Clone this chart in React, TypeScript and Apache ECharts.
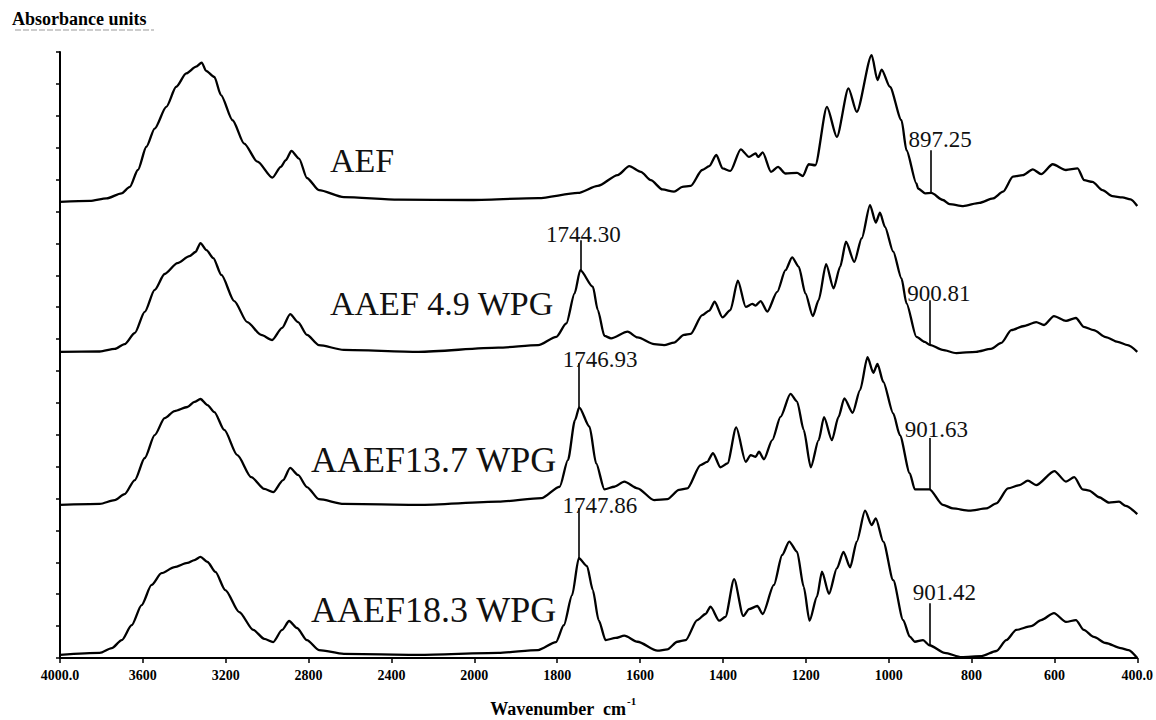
import React, { useEffect, useRef } from "react";
import * as echarts from "echarts";

// Wavenumber tick labels; the axis changes scale at 2000 cm-1 (400 per step above, 200 per step below)
const xTickLabels = ["4000.0", "3600", "3200", "2800", "2400", "2000", "1800", "1600", "1400", "1200", "1000", "800", "600", "400.0"];

const sampleNames = ["AEF", "AAEF 4.9 WPG", "AAEF13.7 WPG", "AAEF18.3 WPG"];

// Vertical offsets of the stacked spectra (absorbance units)
const stackOffsets = [1.43, 0.96, 0.48, 0.01];

// [wavenumber cm-1, absorbance above the spectrum's own baseline]
const aef: [number, number][] = [
  [4000, 0], [3856, 0.003], [3775, 0.011], [3703, 0.027], [3663, 0.047], [3624, 0.1], [3583, 0.173], [3543, 0.23],
  [3487, 0.298], [3439, 0.361], [3391, 0.403], [3343, 0.424], [3316, 0.437], [3295, 0.411], [3255, 0.392], [3223, 0.335],
  [3167, 0.256], [3111, 0.183], [3047, 0.126], [2975, 0.076], [2934, 0.11], [2910, 0.131], [2883, 0.16], [2846, 0.136],
  [2808, 0.075], [2750, 0.037], [2630, 0.015], [2365, 0.007], [2029, 0.006], [1846, 0.012], [1750, 0.028], [1702, 0.05],
  [1654, 0.084], [1626, 0.112], [1598, 0.094], [1574, 0.068], [1546, 0.039], [1518, 0.032], [1498, 0.047], [1478, 0.05],
  [1450, 0.1], [1433, 0.112], [1416, 0.147], [1401, 0.105], [1382, 0.097], [1357, 0.165], [1337, 0.141], [1321, 0.152],
  [1315, 0.141], [1304, 0.155], [1284, 0.094], [1267, 0.11], [1249, 0.089], [1221, 0.091], [1207, 0.081], [1193, 0.118],
  [1177, 0.115], [1149, 0.298], [1125, 0.204], [1097, 0.356], [1077, 0.282], [1041, 0.46], [1027, 0.382], [1017, 0.415],
  [997, 0.361], [969, 0.256], [957, 0.162], [933, 0.058], [929, 0.042], [912, 0.027], [897.25, 0.028], [869, 0.006],
  [853, -0.007], [820, -0.013], [781, -0.003], [748, 0.011], [724, 0.032], [700, 0.079], [676, 0.084], [652, 0.102],
  [632, 0.087], [604, 0.118], [572, 0.1], [544, 0.105], [528, 0.068], [508, 0.063], [484, 0.037], [460, 0.018],
  [436, 0.014], [416, 0.008], [400, -0.013],
];

const aaef49: [number, number][] = [
  [4000, 0], [3808, 0.001], [3736, 0.009], [3688, 0.024], [3639, 0.059], [3591, 0.125], [3543, 0.194], [3495, 0.244],
  [3433, 0.278], [3375, 0.3], [3346, 0.313], [3322, 0.341], [3293, 0.319], [3260, 0.294], [3221, 0.241], [3159, 0.159],
  [3096, 0.093], [3029, 0.053], [2976, 0.037], [2928, 0.075], [2889, 0.118], [2851, 0.093], [2808, 0.053], [2750, 0.021],
  [2630, 0.006], [2269, 0], [1942, 0.013], [1846, 0.021], [1802, 0.047], [1778, 0.089], [1758, 0.183], [1744.3, 0.256],
  [1714, 0.204], [1702, 0.131], [1686, 0.05], [1670, 0.042], [1630, 0.063], [1606, 0.045], [1566, 0.024], [1542, 0.021],
  [1518, 0.029], [1494, 0.053], [1478, 0.056], [1450, 0.115], [1433, 0.129], [1420, 0.157], [1401, 0.108], [1382, 0.131],
  [1364, 0.223], [1345, 0.141], [1329, 0.15], [1321, 0.145], [1309, 0.159], [1293, 0.126], [1269, 0.188], [1249, 0.256],
  [1233, 0.296], [1217, 0.267], [1201, 0.183], [1183, 0.112], [1169, 0.162], [1151, 0.275], [1133, 0.199], [1117, 0.267],
  [1103, 0.345], [1083, 0.282], [1065, 0.356], [1045, 0.46], [1031, 0.405], [1021, 0.436], [1009, 0.392], [989, 0.314],
  [969, 0.23], [957, 0.152], [933, 0.047], [913, 0.031], [900.81, 0.022], [870, 0.006], [837, -0.004], [789, 0],
  [753, 0.009], [728, 0.028], [704, 0.068], [673, 0.081], [644, 0.093], [625, 0.084], [601, 0.112], [572, 0.097],
  [548, 0.106], [529, 0.078], [505, 0.068], [476, 0.046], [447, 0.031], [423, 0.021], [400, 0],
];

const aaef137: [number, number][] = [
  [4000, 0], [3808, 0.003], [3736, 0.015], [3688, 0.034], [3639, 0.078], [3591, 0.147], [3543, 0.219], [3495, 0.272],
  [3447, 0.294], [3385, 0.307], [3351, 0.323], [3322, 0.332], [3288, 0.313], [3255, 0.291], [3207, 0.235], [3144, 0.156],
  [3077, 0.087], [3014, 0.05], [2971, 0.04], [2923, 0.078], [2889, 0.116], [2851, 0.094], [2808, 0.056], [2750, 0.018],
  [2630, 0.003], [2269, 0], [1942, 0.01], [1838, 0.021], [1794, 0.057], [1774, 0.141], [1757, 0.266], [1746.93, 0.306],
  [1722, 0.245], [1706, 0.13], [1686, 0.049], [1662, 0.057], [1638, 0.073], [1606, 0.052], [1566, 0.015], [1534, 0.018],
  [1506, 0.047], [1486, 0.052], [1454, 0.125], [1438, 0.135], [1424, 0.162], [1406, 0.118], [1389, 0.13], [1368, 0.243],
  [1345, 0.135], [1333, 0.156], [1321, 0.151], [1313, 0.167], [1301, 0.143], [1281, 0.203], [1261, 0.276], [1237, 0.348],
  [1221, 0.324], [1205, 0.235], [1188, 0.118], [1169, 0.203], [1156, 0.275], [1137, 0.203], [1121, 0.276], [1107, 0.334],
  [1087, 0.289], [1069, 0.36], [1051, 0.463], [1037, 0.414], [1027, 0.442], [1013, 0.386], [989, 0.287], [973, 0.219],
  [949, 0.099], [937, 0.049], [917, 0.049], [901.63, 0.049], [869, 0], [845, -0.011], [805, -0.018], [764, -0.011],
  [740, 0.005], [712, 0.052], [684, 0.062], [664, 0.076], [644, 0.062], [600, 0.106], [572, 0.073], [552, 0.087],
  [532, 0.049], [516, 0.045], [492, 0.024], [468, 0.007], [444, 0.01], [428, -0.003], [400, -0.029],
];

const aaef183: [number, number][] = [
  [4000, 0], [3808, 0.006], [3750, 0.021], [3702, 0.046], [3654, 0.093], [3606, 0.156], [3558, 0.219], [3510, 0.256],
  [3447, 0.275], [3385, 0.288], [3351, 0.297], [3322, 0.307], [3288, 0.291], [3250, 0.26], [3202, 0.203], [3135, 0.134],
  [3067, 0.078], [3014, 0.05], [2971, 0.04], [2928, 0.078], [2894, 0.106], [2856, 0.084], [2808, 0.046], [2750, 0.015],
  [2630, 0.003], [2269, 0], [1942, 0.006], [1846, 0.015], [1803, 0.04], [1784, 0.093], [1764, 0.187], [1747.86, 0.303],
  [1728, 0.278], [1714, 0.203], [1700, 0.109], [1683, 0.046], [1659, 0.053], [1638, 0.06], [1606, 0.041], [1558, 0.013],
  [1534, 0.017], [1510, 0.041], [1490, 0.046], [1462, 0.109], [1442, 0.128], [1430, 0.151], [1409, 0.107], [1394, 0.119],
  [1373, 0.237], [1351, 0.122], [1337, 0.143], [1317, 0.153], [1304, 0.128], [1277, 0.219], [1257, 0.313], [1240, 0.355],
  [1221, 0.323], [1205, 0.213], [1191, 0.107], [1173, 0.182], [1161, 0.261], [1144, 0.191], [1125, 0.271], [1109, 0.323],
  [1093, 0.274], [1077, 0.355], [1057, 0.452], [1041, 0.407], [1031, 0.428], [1013, 0.355], [989, 0.234], [965, 0.109],
  [949, 0.057], [937, 0.041], [917, 0.046], [901.42, 0.03], [865, 0.006], [824, -0.007], [776, -0.004], [740, 0.012],
  [716, 0.046], [692, 0.078], [656, 0.09], [632, 0.109], [601, 0.131], [572, 0.103], [548, 0.109], [529, 0.078],
  [505, 0.056], [476, 0.037], [440, 0.021], [421, 0.015], [400, -0.01],
];

// Annotated peak positions (cm-1) for each spectrum
const peaksAef = [897.25];
const peaks49 = [1744.3, 900.81];
const peaks137 = [1746.93, 901.63];
const peaks183 = [1747.86, 901.42];

const SERIF = '"Liberation Serif", "Times New Roman", serif';

// Piecewise-linear wavenumber scale: 4000..2000 over 5 steps, 2000..400 over 8 steps
function toAxis(wn: number): number {
  return wn >= 2000 ? (4000 - wn) / 400 : 5 + (2000 - wn) / 200;
}

function valueAt(points: [number, number][], wn: number): number {
  const p = points.find((q) => q[0] === wn);
  return p ? p[1] : 0;
}

type PeakStyle = { top: number; dx: number; dy: number };

// leader-line tops (absorbance axis) and label nudges (px) for each annotated peak
const peakStyles: PeakStyle[][] = [
  [{ top: 1.592, dx: 9, dy: -11 }],
  [{ top: 1.31, dx: 3, dy: -6 }, { top: 1.122, dx: 9, dy: -7 }],
  [{ top: 0.925, dx: 21, dy: -3 }, { top: 0.69, dx: 7, dy: -8 }],
  [{ top: 0.47, dx: 21, dy: -3 }, { top: 0.172, dx: 15, dy: -11 }],
];

const spectra = [
  { points: aef, peaks: peaksAef },
  { points: aaef49, peaks: peaks49 },
  { points: aaef137, peaks: peaks137 },
  { points: aaef183, peaks: peaks183 },
];

function buildOption(): echarts.EChartsOption {
  const series: any[] = spectra.map((s, i) => {
    const off = stackOffsets[i];
    const styles = peakStyles[i];
    return {
      type: "line",
      name: sampleNames[i],
      data: s.points.map(([w, a]) => [toAxis(w), a + off]),
      showSymbol: false,
      symbol: "none",
      smooth: 0.25,
      smoothMonotone: "x",
      silent: true,
      clip: false,
      lineStyle: { color: "#000", width: 2.3 },
      markLine: {
        silent: true,
        symbol: ["none", "none"],
        label: { show: false },
        lineStyle: { color: "#000", width: 1.6, type: "solid" },
        data: s.peaks.map((wn, k) => [
          { coord: [toAxis(wn), valueAt(s.points, wn) + off] },
          { coord: [toAxis(wn), styles[k].top] },
        ]),
      },
      markPoint: {
        silent: true,
        symbol: "circle",
        symbolSize: 1,
        itemStyle: { color: "rgba(0,0,0,0)" },
        data: s.peaks.map((wn, k) => ({
          name: wn.toFixed(2),
          coord: [toAxis(wn), styles[k].top],
          label: {
            show: true,
            position: "inside",
            formatter: "{b}",
            offset: [styles[k].dx, styles[k].dy],
            color: "#111",
            fontFamily: SERIF,
            fontSize: 23,
          },
        })),
      },
    };
  });

  const nameStyle = (size: number) => ({ font: `${size}px ${SERIF}`, fill: "#111" });

  return {
    animation: false,
    backgroundColor: "#fff",
    grid: { left: 60, right: 14, top: 52, bottom: 62 },
    xAxis: {
      type: "value",
      min: 0,
      max: 13,
      interval: 1,
      axisLine: { show: true, lineStyle: { color: "#000", width: 2 } },
      axisTick: { show: true, length: 5, lineStyle: { color: "#000", width: 1.5 } },
      splitLine: { show: false },
      axisLabel: {
        margin: 10,
        color: "#000",
        fontFamily: SERIF,
        fontWeight: "bold",
        fontSize: 14,
        showMinLabel: true,
        showMaxLabel: true,
        formatter: (v: number) => xTickLabels[Math.round(v)] ?? "",
      },
    },
    yAxis: {
      type: "value",
      min: 0,
      max: 1.9,
      interval: 0.1,
      axisLine: { show: true, lineStyle: { color: "#000", width: 2 } },
      axisTick: { show: true, length: 4, lineStyle: { color: "#000", width: 1.5 } },
      axisLabel: { show: false },
      splitLine: { show: false },
    },
    graphic: [
      {
        type: "text",
        x: 12,
        y: 19,
        style: { text: "Absorbance units", font: `bold 18px ${SERIF}`, fill: "#000", textVerticalAlign: "middle" },
      },
      {
        type: "line",
        shape: { x1: 15, y1: 30, x2: 154, y2: 30 },
        style: { stroke: "#999", lineWidth: 1, lineDash: [6, 2] },
      },
      { type: "text", x: 330, y: 160, style: { ...nameStyle(34), text: sampleNames[0], textVerticalAlign: "middle" } },
      { type: "text", x: 330, y: 303, style: { ...nameStyle(34), text: sampleNames[1], textVerticalAlign: "middle" } },
      { type: "text", x: 311, y: 460, style: { ...nameStyle(36), text: sampleNames[2], textVerticalAlign: "middle" } },
      { type: "text", x: 311, y: 610, style: { ...nameStyle(36), text: sampleNames[3], textVerticalAlign: "middle" } },
      {
        type: "text",
        x: 626,
        y: 709,
        style: {
          text: "Wavenumber  cm",
          font: `bold 18px ${SERIF}`,
          fill: "#000",
          textAlign: "right",
          textVerticalAlign: "middle",
        },
      },
      {
        type: "text",
        x: 627,
        y: 701,
        style: { text: "-1", font: `bold 11px ${SERIF}`, fill: "#000", textVerticalAlign: "middle" },
      },
    ],
    series,
  };
}

export default function App() {
  const ref = useRef<HTMLDivElement>(null);
  useEffect(() => {
    if (!ref.current) return;
    const chart = echarts.init(ref.current, null, { renderer: "svg" });
    chart.setOption(buildOption());
    return () => chart.dispose();
  }, []);
  return (
    <div
      ref={ref}
      style={{ position: "fixed", left: 0, top: 0, width: 1156, height: 720, background: "#fff" }}
    />
  );
}
